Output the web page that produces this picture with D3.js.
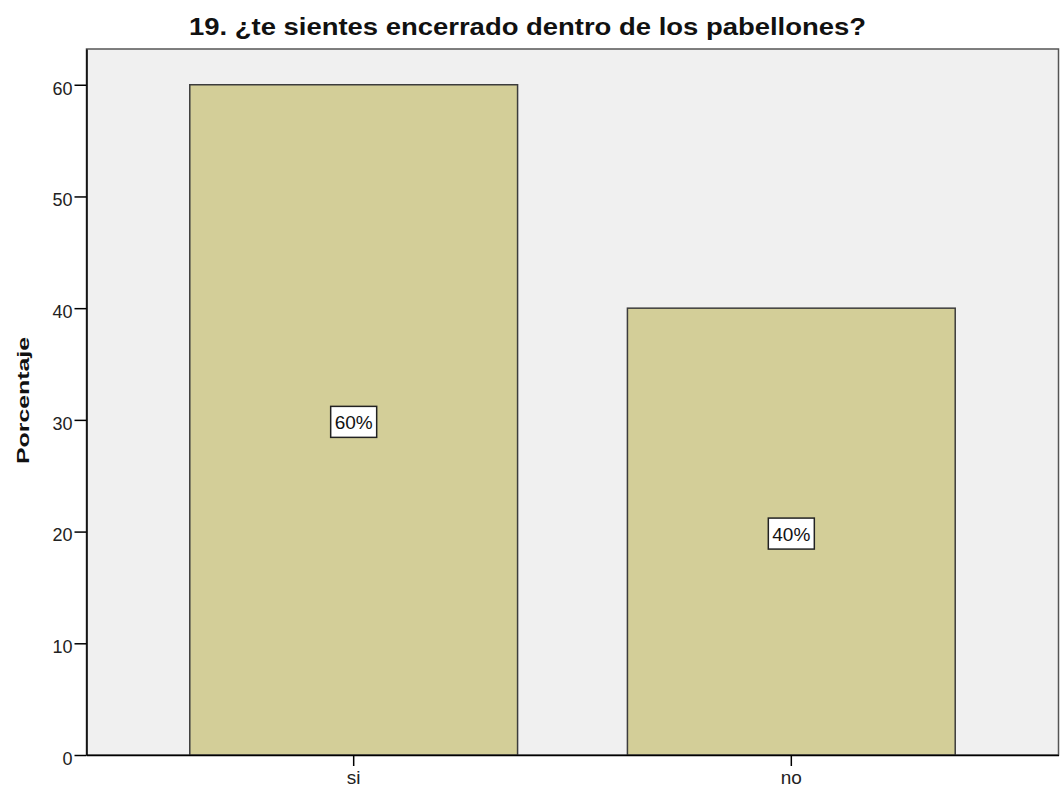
<!DOCTYPE html>
<html><head><meta charset="utf-8">
<script src="https://cdn.jsdelivr.net/npm/d3@7"></script>
<style>body{margin:0;background:#fff}svg{display:block}text{font-family:"Liberation Sans",Arial,sans-serif}</style>
</head><body>
<svg id="c" width="1061" height="788"></svg>
<script>
const categories = ["si", "no"];
const values = [60, 40];
const labels = ["60%", "40%"];
const yTicks = [0, 10, 20, 30, 40, 50, 60];
const title = "19. ¿te sientes encerrado dentro de los pabellones?";
const yTitle = "Porcentaje";

const svg = d3.select("#c");
const L = 86.5, R = 1058.5, T = 49, B = 755;
const y = d3.scaleLinear().domain([0, 63.2]).range([B, T]);
const x = d3.scaleBand().domain(categories).range([L, R]).paddingInner(0.251).paddingOuter(0.236);
const FF = "Liberation Sans, Arial, sans-serif";

svg.append("rect").attr("x", L).attr("y", T).attr("width", R - L).attr("height", B - T)
  .attr("fill", "#f0f0f0").attr("stroke", "#555").attr("stroke-width", 1.5);

svg.selectAll("rect.bar").data(values).enter().append("rect").attr("class", "bar")
  .attr("x", (d, i) => x(categories[i]))
  .attr("y", d => y(d))
  .attr("width", x.bandwidth())
  .attr("height", d => B - y(d))
  .attr("fill", "#d3ce98").attr("stroke", "#3c3c3c").attr("stroke-width", 1.5);

// axes
const yAxis = d3.axisLeft(y).tickValues(yTicks).tickSize(12).tickPadding(2).tickSizeOuter(0);
const gy = svg.append("g").attr("transform", `translate(${L},0)`).call(yAxis);
gy.select(".domain").attr("stroke", "#000").attr("stroke-width", 1.5);
gy.selectAll(".tick line").attr("stroke", "#000").attr("stroke-width", 1.5);
gy.selectAll(".tick text").attr("font-size", 18).attr("fill", "#222").attr("font-family", FF)
  .attr("dy", "0.52em");

const xAxis = d3.axisBottom(x).tickSize(11).tickPadding(5).tickSizeOuter(0);
const gx = svg.append("g").attr("transform", `translate(0,${B})`).call(xAxis);
gx.select(".domain").attr("stroke", "#000").attr("stroke-width", 1.5);
gx.selectAll(".tick line").attr("stroke", "#000").attr("stroke-width", 1.5);
gx.selectAll(".tick text").attr("font-size", 19).attr("fill", "#222").attr("font-family", FF);

// value labels
const lg = svg.selectAll("g.lbl").data(values).enter().append("g").attr("class", "lbl")
  .attr("transform", (d, i) => `translate(${x(categories[i]) + x.bandwidth() / 2},${y(d / 2)})`);
lg.append("rect").attr("x", -23).attr("y", -13.5).attr("width", 46).attr("height", 31)
  .attr("fill", "#fff").attr("stroke", "#222").attr("stroke-width", 1.5);
lg.append("text").attr("text-anchor", "middle").attr("y", 9).attr("font-size", 19)
  .attr("fill", "#111").text((d, i) => labels[i]);

svg.append("text").attr("x", 189).attr("y", 35).attr("text-anchor", "start")
  .attr("font-size", 23).attr("font-weight", "bold").attr("fill", "#111")
  .attr("textLength", 677).attr("lengthAdjust", "spacingAndGlyphs").text(title);

svg.append("text").attr("transform", `translate(28.5,${(337 + 464) / 2}) rotate(-90)`)
  .attr("x", -63.5).attr("text-anchor", "start").attr("font-size", 16.5).attr("font-weight", "bold").attr("fill", "#111")
  .attr("textLength", 127).attr("lengthAdjust", "spacingAndGlyphs").text(yTitle);
</script>
</body></html>
